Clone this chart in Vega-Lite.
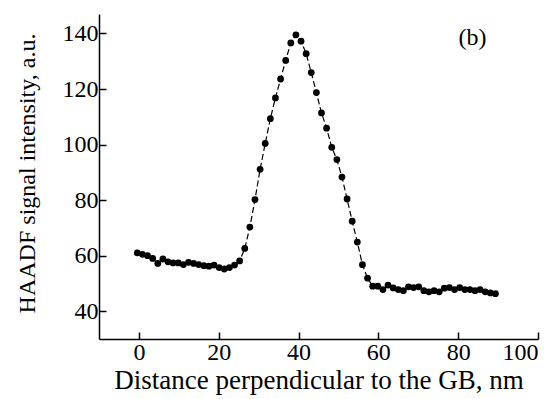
{
  "$schema": "https://vega.github.io/schema/vega-lite/v6.json",
  "width": 439,
  "height": 325,
  "autosize": {"type": "none"},
  "padding": {"left": 99, "top": 14, "right": 18, "bottom": 60},
  "background": "white",
  "config": {
    "view": {"stroke": null},
    "axis": {
      "grid": false,
      "domainColor": "black",
      "domainWidth": 1.5,
      "tickColor": "black",
      "tickWidth": 1.5,
      "tickSize": -7,
      "labelFont": "Liberation Serif",
      "labelFontSize": 24,
      "labelColor": "black",
      "titleFont": "Liberation Serif",
      "titleFontWeight": "normal",
      "titleColor": "black"
    }
  },
  "datasets": {
    "profile": [
      {"d": -0.40, "v": 61.0}, {"d": 0.88, "v": 60.5}, {"d": 2.16, "v": 60.0}, {"d": 3.45, "v": 59.0},
      {"d": 4.73, "v": 57.2}, {"d": 6.01, "v": 58.8}, {"d": 7.29, "v": 57.8}, {"d": 8.57, "v": 57.4},
      {"d": 9.86, "v": 57.4}, {"d": 11.14, "v": 56.8}, {"d": 12.42, "v": 57.6}, {"d": 13.70, "v": 57.2},
      {"d": 14.98, "v": 56.8}, {"d": 16.27, "v": 56.4}, {"d": 17.55, "v": 56.2}, {"d": 18.83, "v": 56.6},
      {"d": 20.11, "v": 55.7}, {"d": 21.39, "v": 55.2}, {"d": 22.68, "v": 55.7}, {"d": 23.96, "v": 56.6},
      {"d": 25.24, "v": 58.1}, {"d": 26.52, "v": 62.6}, {"d": 27.80, "v": 70.3}, {"d": 29.09, "v": 80.2},
      {"d": 30.37, "v": 91.1}, {"d": 31.65, "v": 100.4}, {"d": 32.93, "v": 109.3}, {"d": 34.21, "v": 116.8},
      {"d": 35.50, "v": 123.6}, {"d": 36.78, "v": 130.3}, {"d": 38.06, "v": 136.6}, {"d": 39.34, "v": 139.5},
      {"d": 40.62, "v": 137.2}, {"d": 41.91, "v": 132.7}, {"d": 43.19, "v": 125.9}, {"d": 44.47, "v": 118.7},
      {"d": 45.75, "v": 111.4}, {"d": 47.03, "v": 105.9}, {"d": 48.32, "v": 99.0}, {"d": 49.60, "v": 94.6},
      {"d": 50.88, "v": 88.3}, {"d": 52.16, "v": 80.4}, {"d": 53.44, "v": 72.4}, {"d": 54.73, "v": 64.9},
      {"d": 56.01, "v": 56.75}, {"d": 57.29, "v": 51.9}, {"d": 58.57, "v": 49.0}, {"d": 59.85, "v": 49.0},
      {"d": 61.14, "v": 47.8}, {"d": 62.42, "v": 49.4}, {"d": 63.70, "v": 48.4}, {"d": 64.98, "v": 47.8},
      {"d": 66.26, "v": 47.4}, {"d": 67.55, "v": 48.8}, {"d": 68.83, "v": 48.5}, {"d": 70.11, "v": 48.8},
      {"d": 71.39, "v": 47.4}, {"d": 72.67, "v": 47.0}, {"d": 73.96, "v": 47.4}, {"d": 75.24, "v": 47.0},
      {"d": 76.52, "v": 48.3}, {"d": 77.80, "v": 48.5}, {"d": 79.08, "v": 47.8}, {"d": 80.37, "v": 48.5},
      {"d": 81.65, "v": 47.8}, {"d": 82.93, "v": 47.8}, {"d": 84.21, "v": 47.4}, {"d": 85.49, "v": 47.8},
      {"d": 86.78, "v": 47.0}, {"d": 88.06, "v": 46.6}, {"d": 89.34, "v": 46.3}
    ],
    "note": [{"d": 83.6, "v": 138.3, "label": "(b)"}]
  },
  "layer": [
    {
      "data": {"name": "profile"},
      "mark": {"type": "line", "color": "black", "strokeWidth": 1.2, "strokeDash": [6, 3]},
      "encoding": {
        "x": {
          "field": "d", "type": "quantitative",
          "scale": {"domain": [-10, 100], "nice": false, "zero": false},
          "axis": {"values": [0, 20, 40, 60, 80, 100], "title": "Distance perpendicular to the GB, nm", "titleFontSize": 27, "labelPadding": 8, "titlePadding": 3}
        },
        "y": {
          "field": "v", "type": "quantitative",
          "scale": {"domain": [30, 147], "nice": false, "zero": false},
          "axis": {"values": [40, 60, 80, 100, 120, 140], "title": "HAADF signal intensity, a.u.", "titleFontSize": 24, "labelPadding": 8, "titleX": -72, "titleY": 159, "titleBaseline": "middle"}
        }
      }
    },
    {
      "data": {"name": "profile"},
      "mark": {"type": "point", "filled": true, "color": "black", "opacity": 1, "size": 46},
      "encoding": {
        "x": {"field": "d", "type": "quantitative"},
        "y": {"field": "v", "type": "quantitative"}
      }
    },
    {
      "data": {"name": "note"},
      "mark": {"type": "text", "font": "Liberation Serif", "fontSize": 24, "color": "black", "align": "center", "baseline": "middle"},
      "encoding": {
        "x": {"field": "d", "type": "quantitative"},
        "y": {"field": "v", "type": "quantitative"},
        "text": {"field": "label"}
      }
    }
  ]
}
